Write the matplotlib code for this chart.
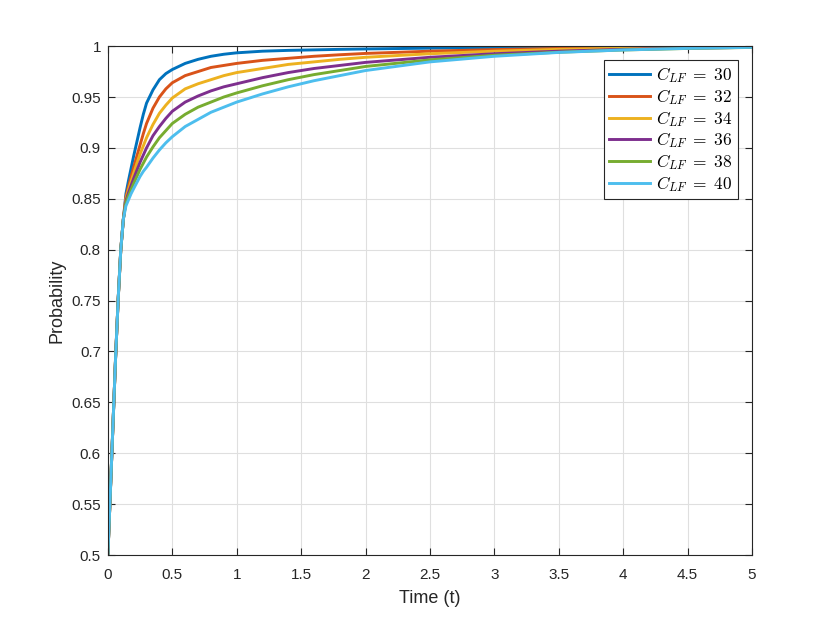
import matplotlib
matplotlib.use("Agg")
import matplotlib.pyplot as plt

t = [0, 0.02, 0.04, 0.06, 0.08, 0.10, 0.12, 0.14, 0.16, 0.18, 0.20, 0.225, 0.25, 0.275,
     0.30, 0.35, 0.40, 0.45, 0.50, 0.6, 0.7, 0.8, 0.9, 1.0, 1.2, 1.4, 1.6, 1.8, 2.0,
     2.5, 3.0, 3.5, 4.0, 4.5, 5.0]

early = [0.5, 0.565, 0.63, 0.695, 0.752, 0.800, 0.830]

p30 = early + [0.855, 0.868, 0.880, 0.892, 0.906, 0.920, 0.933, 0.944, 0.957, 0.967, 0.973, 0.977,
               0.983, 0.987, 0.990, 0.992, 0.9934, 0.995, 0.9958, 0.9963, 0.9968, 0.9972,
               0.998, 0.9986, 0.999, 0.9993, 0.9995, 0.9997]
p32 = early + [0.852, 0.862, 0.872, 0.881, 0.892, 0.903, 0.914, 0.924, 0.939, 0.950, 0.958, 0.964,
               0.971, 0.975, 0.979, 0.981, 0.983, 0.986, 0.988, 0.990, 0.9915, 0.9928,
               0.995, 0.9966, 0.9977, 0.9985, 0.999, 0.9994]
p34 = early + [0.850, 0.859, 0.867, 0.875, 0.885, 0.894, 0.902, 0.910, 0.923, 0.934, 0.942, 0.949,
               0.958, 0.963, 0.967, 0.971, 0.974, 0.978, 0.982, 0.9845, 0.987, 0.989,
               0.9925, 0.995, 0.9968, 0.998, 0.9987, 0.9992]
p36 = early + [0.848, 0.856, 0.863, 0.870, 0.878, 0.886, 0.893, 0.900, 0.912, 0.921, 0.929, 0.936,
               0.945, 0.951, 0.956, 0.960, 0.963, 0.969, 0.974, 0.978, 0.981, 0.984,
               0.989, 0.9925, 0.995, 0.9968, 0.998, 0.9988]
p38 = early + [0.846, 0.853, 0.859, 0.865, 0.872, 0.879, 0.885, 0.891, 0.901, 0.910, 0.917, 0.924,
               0.933, 0.940, 0.945, 0.950, 0.954, 0.961, 0.967, 0.972, 0.976, 0.980,
               0.9865, 0.991, 0.994, 0.9962, 0.9977, 0.9987]
p40 = early + [0.843, 0.849, 0.855, 0.860, 0.866, 0.872, 0.877, 0.881, 0.890, 0.898, 0.905, 0.911,
               0.921, 0.928, 0.935, 0.940, 0.945, 0.953, 0.960, 0.966, 0.971, 0.976,
               0.9845, 0.990, 0.9938, 0.9962, 0.9978, 0.9988]

series = [p30, p32, p34, p36, p38, p40]
c_lf = [30, 32, 34, 36, 38, 40]
colors = ['#0072BD', '#D95319', '#EDB120', '#7E2F8E', '#77AC30', '#4DBEEE']

plt.rcParams['font.family'] = ['Liberation Sans', 'DejaVu Sans']
plt.rcParams['mathtext.fontset'] = 'cm'

fig = plt.figure(figsize=(8.3, 6.23), dpi=100)
ax = fig.add_axes([0.130, 0.109, 0.776, 0.817])

for vals, c, col in zip(series, c_lf, colors):
    ax.plot(t, vals, color=col, linewidth=2.1, label=r'$C_{LF}\;=\;%d$' % c)

ax.set_xlim(0, 5)
ax.set_ylim(0.5, 1)
xt = [i * 0.5 for i in range(11)]
yt = [0.5 + i * 0.05 for i in range(11)]
ax.set_xticks(xt)
ax.set_xticklabels(['0', '0.5', '1', '1.5', '2', '2.5', '3', '3.5', '4', '4.5', '5'])
ax.set_yticks(yt)
ax.set_yticklabels(['0.5', '0.55', '0.6', '0.65', '0.7', '0.75', '0.8', '0.85', '0.9', '0.95', '1'])

axcol = '#262626'
ax.grid(True, color='#dfdfdf', linewidth=0.8)
ax.set_axisbelow(True)
for s in ax.spines.values():
    s.set_color(axcol)
    s.set_linewidth(0.8)
ax.tick_params(direction='in', top=True, right=True, length=5, width=0.8,
               colors=axcol, labelsize=11)
ax.tick_params(axis='x', pad=9)
ax.tick_params(axis='y', pad=5)

ax.set_xlabel('Time (t)', fontsize=13, color=axcol, labelpad=6)
ax.set_ylabel('Probability', fontsize=13, color=axcol, labelpad=4)

leg = ax.legend(loc='upper right', fontsize=12.5, handlelength=2.4, handletextpad=0.35,
                borderpad=0.3, labelspacing=0.1, fancybox=False, framealpha=1,
                borderaxespad=0.8)
leg.get_frame().set_edgecolor(axcol)
leg.get_frame().set_linewidth(0.8)

fig.savefig('out.png', dpi=100)
